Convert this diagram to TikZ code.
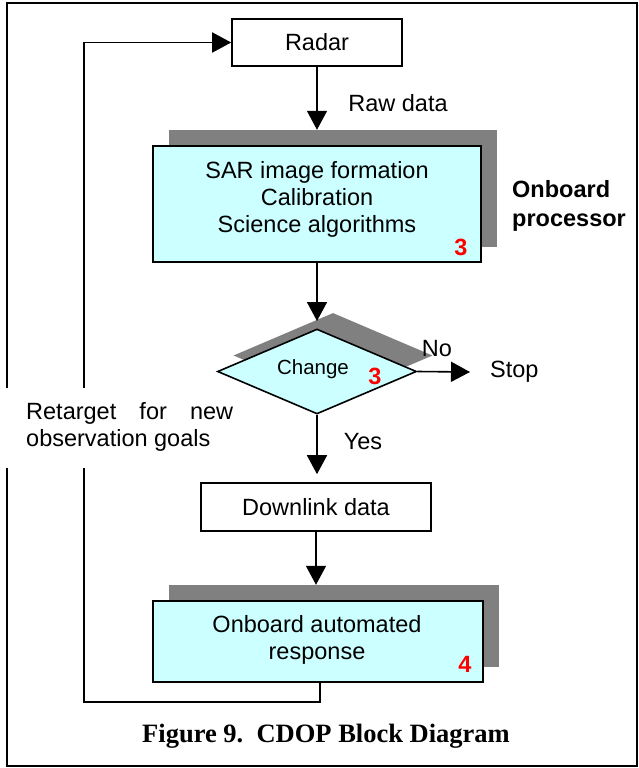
\documentclass[tikz,border=0pt]{standalone}
\usepackage{fontspec}
\setmainfont{Liberation Sans}
\newfontfamily\capfont{Liberation Serif}
\usetikzlibrary{arrows.meta,shapes.geometric}
\definecolor{boxcyan}{HTML}{CCFFFF}
\definecolor{shadowgray}{HTML}{808080}
\begin{document}
\begin{tikzpicture}[x=1pt,y=-1pt,
  fnt/.style={font=\fontsize{23.5}{27}\selectfont},
  lbl/.style={inner sep=0pt, fnt},
  plainbox/.style={draw, line width=1.6pt, fill=white, inner sep=0pt, fnt},
  cbox/.style={draw, line width=1.6pt, fill=boxcyan, inner sep=0pt},
  shadowbox/.style={fill=shadowgray, inner sep=0pt},
  flow/.style={line width=1.6pt, -{Triangle[length=19pt,width=20pt]}},
  num/.style={text=red, inner sep=0pt, font=\bfseries\fontsize{23.5}{27}\selectfont}]
\useasboundingbox (0,0) rectangle (638,768);
% frame
\node[draw, line width=1.5pt, minimum width=630pt, minimum height=763pt, inner sep=0pt] (frame) at (322,384.5) {};
% nodes
\node[plainbox, minimum width=170pt, minimum height=47pt] (radar) at (317,42.5) {Radar};
\node[shadowbox, minimum width=328pt, minimum height=117pt] (sarsh) at (333,188.5) {};
\node[cbox, minimum width=328pt, minimum height=116pt] (sar) at (317,204) {};
\node[lbl, align=center] (sartext) at (317,199) {SAR image formation\\Calibration\\Science algorithms};
\node[num] (n3a) at (461,247) {3};
\node[lbl, anchor=west, align=left, font=\bfseries\fontsize{23.5}{29}\selectfont] (obp) at (512,205.5) {Onboard\\processor};
\node[diamond, fill=shadowgray, minimum width=199pt, minimum height=85pt, inner sep=0pt] (chsh) at (333,355.5) {};
\node[diamond, draw, line width=1.6pt, fill=boxcyan, minimum width=199pt, minimum height=85pt, inner sep=0pt] (ch) at (317,371.5) {};
\node[inner sep=0pt, font=\fontsize{20.5}{24}\selectfont] (chtext) at (313,369) {Change};
\node[num] (n3b) at (375,376) {3};
\node[lbl] (no) at (437,349) {No};
\node[lbl, anchor=west] (stop) at (490,372) {Stop};
\node[lbl] (yes) at (363,442) {Yes};
\node[lbl] (raw) at (398,103) {Raw data};
\node[plainbox, minimum width=230pt, minimum height=48pt] (dl) at (316,507) {Downlink data};
\node[shadowbox, minimum width=330pt, minimum height=82pt] (oarsh) at (334,626) {};
\node[cbox, minimum width=330pt, minimum height=81pt] (oar) at (318,641.5) {};
\node[lbl, align=center] (oartext) at (317,639.5) {Onboard automated\\response};
\node[num] (n4) at (465,664) {4};
% feedback loop
\coordinate (fbc) at (84,702);
\draw[flow] ([xshift=2pt]oar.south) |- (fbc) |- (radar.west);
% retarget label with white background
\node[fill=white, minimum width=240pt, minimum height=80pt, inner sep=0pt] (rtbg) at (120,428) {};
\node[lbl, anchor=west, align=left] (rt) at (26,426.5) {\makebox[207pt][s]{Retarget for new}\\observation goals};
% connectors
\coordinate (chtip) at (317,321);
\draw[flow] (radar.south) -- (radar.south |- sarsh.north);
\draw[flow] (sar.south) -- (chtip);
\draw[flow] (ch.east) -- ([xshift=-20pt]stop.west);
\draw[flow] (ch.south) -- ([yshift=8pt]ch.south |- dl.north);
\draw[flow] (dl.south) -- (dl.south |- oarsh.north);
% caption
\node[inner sep=0pt, font=\capfont\bfseries\fontsize{26.5}{30}\selectfont] (cap) at (326,736) {Figure 9.\ \ CDOP Block Diagram};
\end{tikzpicture}
\end{document}
